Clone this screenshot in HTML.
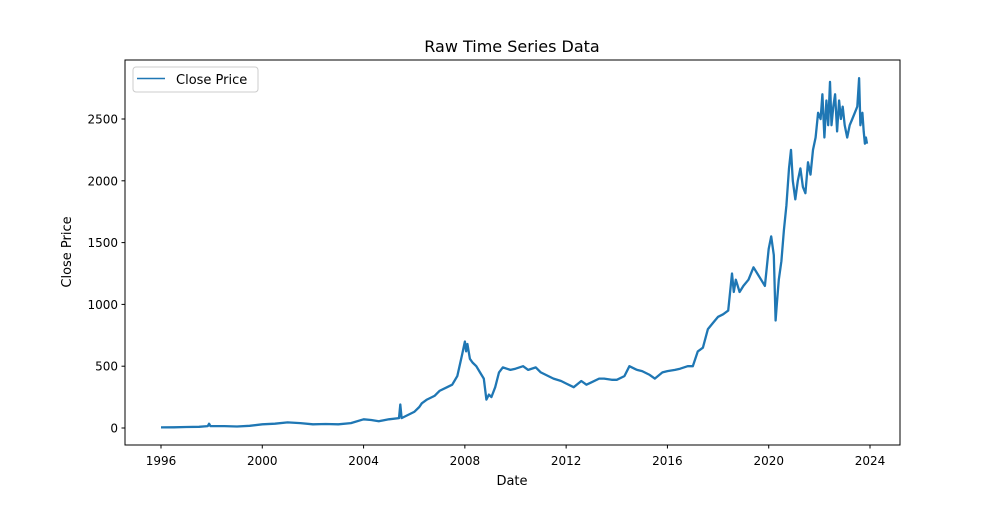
<!DOCTYPE html>
<html><head><meta charset="utf-8"><style>
body{margin:0;background:#fff;font-family:"Liberation Sans","DejaVu Sans",sans-serif;}
svg text{font-family:"DejaVu Sans","Liberation Sans",sans-serif;fill:#000;}
</style></head><body>
<svg id="chart" width="1000" height="500" viewBox="0 0 1000 500">
<rect width="1000" height="500" fill="#fff"/>
<text x="512" y="52" font-size="16" text-anchor="middle">Raw Time Series Data</text>
<g id="series"></g>
<g id="xticks"></g>
<g id="yticks"></g>
<rect x="125" y="60" width="775" height="385" fill="none" stroke="#000" stroke-width="1"/>
<text x="512" y="485" font-size="13" text-anchor="middle">Date</text>
<text x="0" y="0" font-size="13" text-anchor="middle" transform="translate(71,252) rotate(-90)">Close Price</text>
<g>
<rect x="133" y="67" width="125" height="25" rx="3" fill="#fff" stroke="#ccc"/>
<line x1="137" y1="78.5" x2="165" y2="78.5" stroke="#1f77b4" stroke-width="1.5"/>
<text x="176" y="84" font-size="13">Close Price</text>
</g>
</svg>
<script>
const dates=[1996.0,1996.5,1997.0,1997.5,1997.85,1997.9,1997.95,1998.5,1999.0,1999.5,2000.0,2000.5,2001.0,2001.5,2002.0,2002.5,2003.0,2003.5,2004.0,2004.3,2004.6,2005.0,2005.4,2005.45,2005.5,2006.0,2006.2,2006.3,2006.5,2006.8,2007.0,2007.3,2007.5,2007.7,2007.9,2008.0,2008.05,2008.1,2008.2,2008.3,2008.45,2008.6,2008.75,2008.85,2008.95,2009.05,2009.2,2009.35,2009.5,2009.8,2010.0,2010.3,2010.5,2010.8,2011.0,2011.3,2011.5,2011.8,2012.0,2012.3,2012.6,2012.8,2013.0,2013.3,2013.5,2013.8,2014.0,2014.3,2014.5,2014.8,2015.0,2015.3,2015.5,2015.8,2016.0,2016.3,2016.5,2016.8,2017.0,2017.2,2017.4,2017.6,2017.8,2018.0,2018.2,2018.4,2018.55,2018.62,2018.7,2018.85,2019.0,2019.2,2019.4,2019.55,2019.7,2019.85,2020.0,2020.1,2020.2,2020.27,2020.32,2020.4,2020.5,2020.6,2020.7,2020.8,2020.88,2020.95,2021.05,2021.15,2021.25,2021.35,2021.45,2021.55,2021.65,2021.75,2021.85,2021.95,2022.05,2022.12,2022.2,2022.28,2022.35,2022.42,2022.48,2022.55,2022.62,2022.7,2022.78,2022.85,2022.92,2023.0,2023.1,2023.2,2023.3,2023.4,2023.5,2023.57,2023.62,2023.7,2023.75,2023.8,2023.84,2023.88];
const closes=[5,6,8,10,15,35,15,15,12,18,30,35,45,40,30,32,30,40,70,65,55,70,80,190,80,130,170,200,230,260,300,330,350,420,600,700,620,680,560,530,500,450,400,230,270,250,330,450,490,470,480,500,470,490,450,420,400,380,360,330,380,350,370,400,400,390,390,420,500,470,460,430,400,450,460,470,480,500,500,620,650,800,850,900,920,950,1250,1100,1200,1100,1150,1200,1300,1250,1200,1150,1450,1550,1400,870,1000,1200,1350,1600,1800,2100,2250,2000,1850,2000,2100,1950,1900,2150,2050,2250,2350,2550,2500,2700,2350,2650,2450,2800,2450,2600,2700,2400,2650,2500,2600,2450,2350,2450,2500,2550,2600,2830,2450,2550,2400,2300,2350,2300];
const xTicks=[1996,2000,2004,2008,2012,2016,2020,2024];
const yTicks=[0,500,1000,1500,2000,2500];
const NS='http://www.w3.org/2000/svg';
function xs(d){return 161+(d-1996)*(709/28);}
function ys(v){return 428-v*(309/2500);}
const series=document.getElementById('series');
let pts=dates.map((d,i)=>xs(d).toFixed(1)+','+ys(closes[i]).toFixed(1)).join(' ');
const pl=document.createElementNS(NS,'polyline');


pl.setAttribute('points',pts);pl.setAttribute('fill','none');pl.setAttribute('stroke','#1f77b4');pl.setAttribute('stroke-width','2.3');pl.setAttribute('stroke-linejoin','round');
series.appendChild(pl);
const xg=document.getElementById('xticks');
xTicks.forEach(t=>{const x=xs(t);
const l=document.createElementNS(NS,'line');


l.setAttribute('x1',x);l.setAttribute('x2',x);l.setAttribute('y1',445);l.setAttribute('y2',448.5);l.setAttribute('stroke','#000');xg.appendChild(l);
const tx=document.createElementNS(NS,'text');


tx.setAttribute('x',x);tx.setAttribute('y',465);tx.setAttribute('font-size','12');tx.setAttribute('text-anchor','middle');tx.textContent=t;xg.appendChild(tx);});
const yg=document.getElementById('yticks');
yTicks.forEach(t=>{const y=ys(t);
const l=document.createElementNS(NS,'line');


l.setAttribute('x1',121.5);l.setAttribute('x2',125);l.setAttribute('y1',y);l.setAttribute('y2',y);l.setAttribute('stroke','#000');yg.appendChild(l);
const tx=document.createElementNS(NS,'text');


tx.setAttribute('x',118);tx.setAttribute('y',y+4.5);tx.setAttribute('font-size','12');tx.setAttribute('text-anchor','end');tx.textContent=t;yg.appendChild(tx);});
</script>
</body></html>
